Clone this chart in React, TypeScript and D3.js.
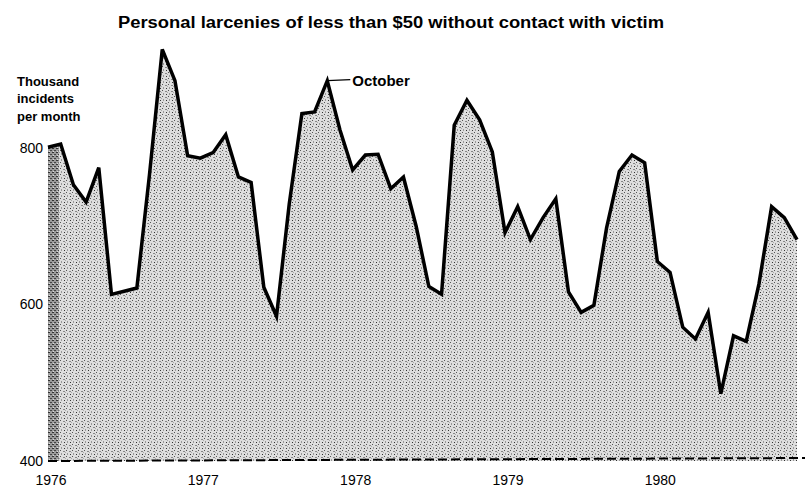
import React from 'react';
import * as d3 from 'd3';

// thousand incidents per month, Jan 1976 .. Dec 1980
const values = [
  801, 805, 753, 731, 775, 613, 617, 621, 767, 926, 886, 790,
  787, 794, 817, 763, 756, 622, 585, 728, 844, 846, 886, 823,
  772, 791, 792, 748, 763, 700, 623, 613, 829, 861, 836, 795,
  692, 725, 683, 711, 735, 616, 590, 599, 698, 770, 791, 781,
  655, 641, 571, 556, 590, 486, 560, 553, 626, 725, 711, 683,
];
const years = ['1976', '1977', '1978', '1979', '1980'];
const yTicks = [800, 600, 400];
const noteIndex = 22;
const noteText = 'October';

const W = 805;
const H = 491;

export default function App() {
  const x = d3.scaleLinear().domain([0, values.length - 1]).range([48, 797]);
  const y = d3.scaleLinear().domain([400, 800]).range([461, 148]);

  const area = d3.area<number>()
    .x((d, i) => x(i))
    .y0(y(400))
    .y1(d => y(d));
  const line = d3.line<number>()
    .x((d, i) => x(i))
    .y(d => y(d));

  const font = '"Liberation Sans", Arial, sans-serif';

  return (
    <svg width={W} height={H} style={{ position: 'absolute', left: 0, top: 0, background: '#fff' }}
      fontFamily={font}>
      <defs>
        {/* halftone-ish stipple for the area */}
        <pattern id="stipple" width="6" height="6" patternUnits="userSpaceOnUse">
          <rect width="6" height="6" fill="#dedede" />
          <rect x="0" y="0" width="1" height="1" fill="#555" />
          <rect x="3" y="1" width="2" height="1" fill="#888" />
          <rect x="1" y="3" width="1" height="2" fill="#999" />
          <rect x="4" y="4" width="1" height="1" fill="#333" />
          <rect x="5" y="2" width="1" height="1" fill="#aaa" />
        </pattern>
        <pattern id="stippleDark" width="4" height="4" patternUnits="userSpaceOnUse">
          <rect width="4" height="4" fill="#9a9a9a" />
          <rect x="0" y="0" width="2" height="1" fill="#333" />
          <rect x="2" y="2" width="2" height="1" fill="#444" />
          <rect x="1" y="3" width="1" height="1" fill="#ddd" />
        </pattern>
        <clipPath id="areaClip">
          <path d={area(values) ?? ''} />
        </clipPath>
      </defs>

      <text x={391} y={28} textAnchor="middle" fontSize={16} fontWeight="bold"
        textLength={546} lengthAdjust="spacingAndGlyphs">
        Personal larcenies of less than $50 without contact with victim
      </text>

      <g fontSize={13} fontWeight="bold">
        <text x={17} y={86}>Thousand</text>
        <text x={17} y={103}>incidents</text>
        <text x={17} y={121}>per month</text>
      </g>

      <path d={area(values) ?? ''} fill="url(#stipple)" />
      <rect x={x(0)} y={0} width={x(1) - x(0) - 2} height={H} fill="url(#stippleDark)" clipPath="url(#areaClip)" />

      <line x1={x(0)} x2={W} y1={y(400)} y2={y(400) - 3} stroke="#000" strokeWidth={2}
        strokeDasharray="9 4" />

      <path d={line(values) ?? ''} fill="none" stroke="#000" strokeWidth={3.5} strokeLinejoin="miter" />

      {yTicks.map(t => (
        <text key={t} x={43} y={y(t)} dy="0.35em" textAnchor="end" fontSize={14}>
          {t}
        </text>
      ))}

      {years.map((yr, i) => (
        <text key={yr} x={x(i * 12) + 3} y={485} textAnchor="middle" fontSize={14}>
          {yr}
        </text>
      ))}

      <line x1={x(noteIndex)} x2={x(noteIndex) + 23} y1={y(values[noteIndex])} y2={y(values[noteIndex]) - 1}
        stroke="#000" strokeWidth={1.2} />
      <text x={x(noteIndex) + 25} y={y(values[noteIndex]) + 5} fontSize={15} fontWeight="bold">
        {noteText}
      </text>
    </svg>
  );
}
